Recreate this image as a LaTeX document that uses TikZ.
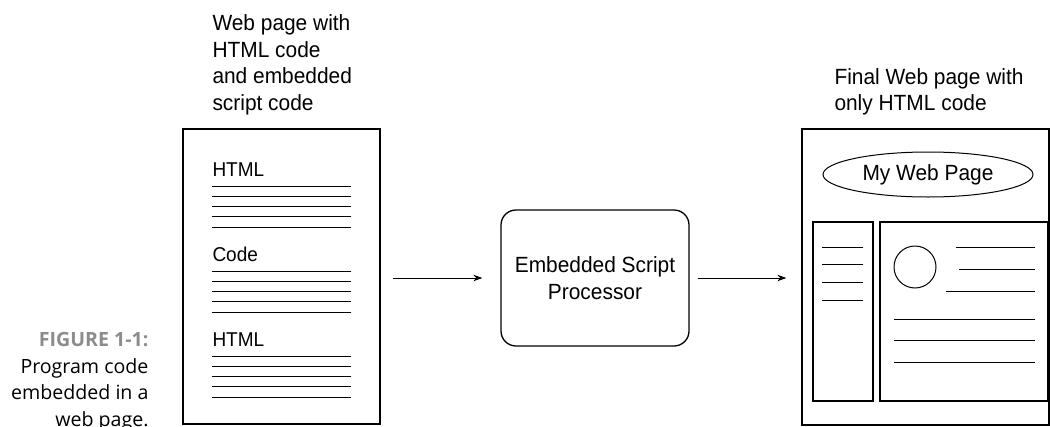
\documentclass[tikz,border=0pt]{standalone}
\usepackage{fontspec}
\setmainfont{Liberation Sans}[FakeStretch=0.95]
\newfontfamily\capfont{Open Sans}
\usetikzlibrary{arrows.meta,shapes.geometric}

\begin{document}
\begin{tikzpicture}
[x=1pt, y=-1pt, line width=1pt,
 page/.style={draw, line width=1.3pt, inner sep=0pt},
 heading/.style={anchor=base west, align=left, inner sep=0pt, font=\fontsize{22}{26.4}\selectfont},
 parttext/.style={anchor=base west, inner sep=0pt, font=\fontsize{20}{24}\selectfont},
 flow/.style={-{Stealth[length=9pt,width=6.5pt]}, line width=1pt}]
  \useasboundingbox (0,0) rectangle (1050,426);

  % caption (base = last line)
  \node[anchor=base east, align=right, inner sep=0pt, font=\capfont\fontsize{19.6}{26.6}\selectfont]
    (caption) at (149,426.5) {{\bfseries\color{black!45}FIGURE 1-1:}\\Program code\\embedded in a\\web page.};

  % source page
  \node[heading] (srctitle) at (212,110) {Web page with\\HTML code\\and embedded\\script code};
  \node[page, minimum width=197pt, minimum height=295pt] (srcpage) at (281.5,276.5) {};
  \foreach \name/\txt/\y in {srchtml/HTML/176, srccode/Code/261, srcfoot/HTML/346}
  {
    \node[parttext] (\name) at (212,\y) {\txt};
    \foreach \k in {0,...,4}
      \draw (212,\y+10+10.3*\k) -- +(139,0);
  }

  % processor
  \node[draw, line width=1.3pt, rounded corners=15pt, minimum width=188pt, minimum height=136pt,
    align=center, font=\fontsize{22}{27}\selectfont] (proc) at (595,278) {Embedded Script\\Processor};

  % final page
  \node[heading] (dsttitle) at (834,110.5) {Final Web page with\\only HTML code};
  \node[page, minimum width=247pt, minimum height=296pt] (dstpage) at (925.5,277) {};
  \node[draw, ellipse, inner sep=0pt, minimum width=210pt, minimum height=45pt,
    font=\fontsize{22}{24}\selectfont] (banner) at (928,174.5) {My Web Page};
  \node[page, minimum width=60pt, minimum height=179pt] (sidebar) at (843,311.5) {};
  \node[page, minimum width=168pt, minimum height=179pt] (content) at (964,311.5) {};
  \node[draw, circle, inner sep=0pt, minimum size=42pt] (photo) at (915,267) {};

  \foreach \y in {247,264.7,282.3,300}
    \draw (822,\y) -- (863,\y);
  \foreach \x/\y in {956/247, 959/269, 946/291, 894/319, 894/340, 894/362}
    \draw (\x,\y) -- (1035,\y);

  % arrows
  \draw[flow, shorten <=12pt, shorten >=18pt] (srcpage.east |- proc.west) -- (proc.west);
  \draw[flow, shorten <=8pt, shorten >=15pt] (proc.east) -- (dstpage.west |- proc.east);
\end{tikzpicture}
\end{document}
